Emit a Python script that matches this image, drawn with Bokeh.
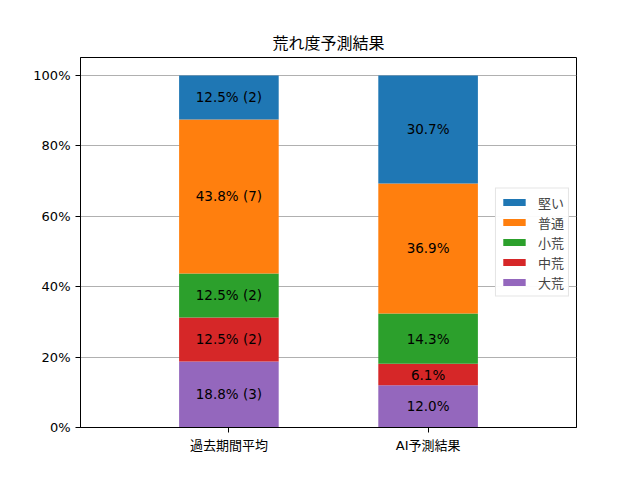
from bokeh.plotting import figure
from bokeh.models import Range1d, FixedTicker, PrintfTickFormatter, Legend, LegendItem, ColumnDataSource
from bokeh.core.properties import value
from bokeh.embed import file_html
from bokeh.resources import INLINE

groups = ["過去期間平均", "AI予測結果"]
levels = ["大荒", "中荒", "小荒", "普通", "堅い"]
colors = ["#9467bd", "#d62728", "#2ca02c", "#ff7f0e", "#1f77b4"]
past_counts = [3, 2, 2, 7, 2]
ai_pct = [12.0, 6.1, 14.3, 36.9, 30.7]
y_ticks = [0, 20, 40, 60, 80, 100]

total = sum(past_counts)
past_pct = [c / total * 100 for c in past_counts]

FONT = "'DejaVu Sans', 'Noto Sans CJK JP'"

p = figure(width=624, height=464, output_backend="svg", toolbar_location=None,
           x_range=Range1d(-0.745, 1.745), y_range=Range1d(0, 105.1),
           min_border_left=80, min_border_right=48, min_border_top=57, min_border_bottom=37)

p.title.text = "荒れ度予測結果"
p.title.align = "center"
p.title.text_font = FONT
p.title.text_font_size = "16px"
p.title.text_font_style = "normal"
p.title.text_color = "black"

xs = [0, 1]
data = {"x": xs}
for i, lv in enumerate(levels):
    data[lv] = [past_pct[i], ai_pct[i]]
src = ColumnDataSource(data)
rends = p.vbar_stack(levels, x="x", width=0.5, color=colors, source=src, line_width=0)

# labels
lx, ly, lt = [], [], []
for g, (vals, show_count) in enumerate([(past_pct, True), (ai_pct, False)]):
    cum = 0
    for i, v in enumerate(vals):
        lx.append(xs[g])
        ly.append(cum + v / 2)
        if show_count:
            lt.append(f"{v:.1f}% ({past_counts[i]})")
        else:
            lt.append(f"{v:.1f}%")
        cum += v
p.text(x=lx, y=ly, text=lt, text_align="center", text_baseline="middle",
       text_font=value(FONT), text_font_size="13.5px", text_color="black")

items = [LegendItem(label=levels[i], renderers=[rends[i]]) for i in reversed(range(len(levels)))]
legend = Legend(items=items, location="center_right")
legend.label_text_font = FONT
legend.label_text_font_size = "13px"
legend.glyph_width = 28
legend.glyph_height = 9
legend.label_height = 12
legend.spacing = 1
legend.padding = 4
legend.margin = 7
legend.border_line_color = "#cccccc"
legend.label_standoff = 10
p.add_layout(legend)

p.xaxis.ticker = FixedTicker(ticks=xs)
p.xaxis.major_label_overrides = {0: groups[0], 1: groups[1]}
p.yaxis.ticker = FixedTicker(ticks=y_ticks)
p.yaxis.formatter = PrintfTickFormatter(format="%d%%")
for ax in [p.xaxis[0], p.yaxis[0]]:
    ax.major_label_text_font = FONT
    ax.major_label_text_font_size = "13px"
    ax.major_label_text_color = "black"
    ax.minor_tick_line_color = None
    ax.major_tick_in = 0
    ax.major_tick_out = 5
    ax.axis_line_color = "black"
    ax.major_tick_line_color = "black"

p.xgrid.grid_line_color = None
p.ygrid.grid_line_color = "#b0b0b0"
p.ygrid.ticker = FixedTicker(ticks=y_ticks)
p.outline_line_color = "black"
p.outline_line_alpha = 1
p.outline_line_width = 1

open("out.html", "w").write(file_html(p, INLINE))
